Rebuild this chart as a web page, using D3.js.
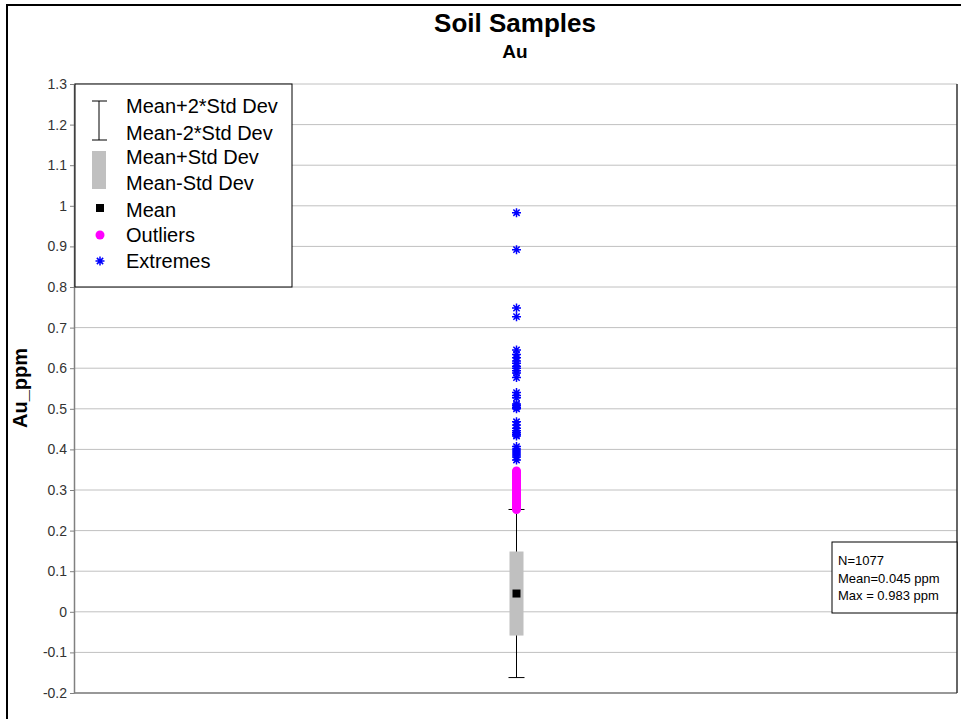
<!DOCTYPE html>
<html><head><meta charset="utf-8">
<script src="https://cdn.jsdelivr.net/npm/d3@7"></script>
<style>body{margin:0;background:#fff}svg{display:block;font-family:Arial,"Liberation Sans",sans-serif}</style>
</head><body><svg id="c" width="961" height="719"></svg>
<script>
const categories = ["Au"];
const tickValues = [1.3,1.2,1.1,1.0,0.9,0.8,0.7,0.6,0.5,0.4,0.3,0.2,0.1,0,-0.1,-0.2];
const tickLabels = ["1.3","1.2","1.1","1","0.9","0.8","0.7","0.6","0.5","0.4","0.3","0.2","0.1","0","-0.1","-0.2"];
const meanVal = 0.045;
const stdDev = 0.1035;
const nSamples = 1077;
const maxVal = 0.983;
const outliers = [0.252,0.255,0.258,0.261,0.264,0.267,0.270,0.273,0.276,0.279,0.282,0.285,0.288,0.291,0.294,0.297,0.300,0.303,0.306,0.309,0.312,0.316,0.320,0.324,0.328,0.332,0.336,0.340,0.344,0.347];
const extremes = [0.983,0.892,0.748,0.727,0.645,0.634,0.626,0.618,0.612,0.605,0.600,0.594,0.588,0.577,0.540,0.533,0.527,0.512,0.508,0.504,0.500,0.468,0.460,0.452,0.446,0.441,0.437,0.433,0.407,0.401,0.396,0.391,0.386,0.381,0.374];
const legendItems = ["Mean+2*Std Dev","Mean-2*Std Dev","Mean+Std Dev","Mean-Std Dev","Mean","Outliers","Extremes"];

const svg = d3.select("#c");
const L = 74, R = 957, T = 84, B = 693;
const y = d3.scaleLinear().domain([-0.2,1.3]).range([B,T]);
const x = d3.scaleBand().domain(categories).range([L,R]);
const cx = x("Au") + x.bandwidth()/2 + 1;

// outer border
svg.append("rect").attr("x",7).attr("y",5).attr("width",970).attr("height",730)
  .attr("fill","none").attr("stroke","#000").attr("stroke-width",2);

// titles
svg.append("text").attr("x",515).attr("y",32).attr("text-anchor","middle")
  .attr("font-weight","bold").attr("font-size",26).text("Soil Samples");
svg.append("text").attr("x",515).attr("y",58).attr("text-anchor","middle")
  .attr("font-weight","bold").attr("font-size",19).text("Au");

// gridlines
svg.append("g").selectAll("line").data(tickValues).join("line")
  .attr("x1",L).attr("x2",R).attr("y1",d=>y(d)).attr("y2",d=>y(d))
  .attr("stroke","#c0c0c0").attr("stroke-width",1);

// axis
const ax = svg.append("g").attr("transform",`translate(${L},0)`)
  .call(d3.axisLeft(y).tickValues(tickValues).tickSize(4).tickSizeOuter(0).tickPadding(3)
    .tickFormat((d,i)=>tickLabels[i]));
ax.selectAll("text").attr("font-size",14).attr("fill","#333").attr("font-family","Arial,'Liberation Sans',sans-serif");
ax.selectAll("line").attr("stroke","#808080");
ax.select(".domain").attr("stroke","#808080").attr("stroke-width",1.5);
// bottom & right border
svg.append("line").attr("x1",L).attr("x2",R).attr("y1",y(-0.2)).attr("y2",y(-0.2)).attr("stroke","#808080").attr("stroke-width",1.5);
svg.append("line").attr("x1",R).attr("x2",R).attr("y1",T).attr("y2",B).attr("stroke","#333").attr("stroke-width",1.5);

// y label
svg.append("text").attr("transform",`translate(27,388) rotate(-90)`).attr("text-anchor","middle")
  .attr("font-weight","bold").attr("font-size",20).text("Au_ppm");

// whisker
const g = svg.append("g");
g.append("line").attr("x1",cx).attr("x2",cx).attr("y1",y(meanVal-2*stdDev)).attr("y2",y(meanVal+2*stdDev)).attr("stroke","#000");
[meanVal-2*stdDev, meanVal+2*stdDev].forEach(v=>{
  g.append("line").attr("x1",cx-8).attr("x2",cx+8).attr("y1",y(v)).attr("y2",y(v)).attr("stroke","#000");
});
g.append("rect").attr("x",cx-7).attr("width",14).attr("y",y(meanVal+stdDev)).attr("height",y(meanVal-stdDev)-y(meanVal+stdDev)).attr("fill","#c0c0c0");
g.append("rect").attr("x",cx-4).attr("y",y(meanVal)-4).attr("width",8).attr("height",8).attr("fill","#000");

// outliers
g.selectAll("circle.o").data(outliers).join("circle").attr("class","o")
  .attr("cx",cx).attr("cy",d=>y(d)).attr("r",4.5).attr("fill","#ff00ff");

// extremes
const star = (px,py,s)=>`M${px-s},${py}L${px+s},${py}M${px},${py-s}L${px},${py+s}M${px-s*0.7},${py-s*0.7}L${px+s*0.7},${py+s*0.7}M${px-s*0.7},${py+s*0.7}L${px+s*0.7},${py-s*0.7}`;
g.selectAll("path.e").data(extremes).join("path").attr("class","e")
  .attr("d",d=>star(cx,y(d),4.5)).attr("stroke","#0000ff").attr("stroke-width",1.5).attr("fill","none");

// legend
const lg = svg.append("g");
lg.append("rect").attr("x",75).attr("y",84).attr("width",217).attr("height",203).attr("fill","#fff").attr("stroke","#000");
const ly = [113,140,164,190,217,242,268];
lg.selectAll("text").data(legendItems).join("text").attr("x",126).attr("y",(d,i)=>ly[i])
  .attr("font-size",20).attr("fill","#000").text(d=>d);
lg.append("line").attr("x1",99).attr("x2",99).attr("y1",101).attr("y2",140).attr("stroke","#000");
lg.append("line").attr("x1",92).attr("x2",107).attr("y1",101).attr("y2",101).attr("stroke","#000");
lg.append("line").attr("x1",92).attr("x2",107).attr("y1",140).attr("y2",140).attr("stroke","#000");
lg.append("rect").attr("x",92).attr("y",151).attr("width",14).attr("height",38).attr("fill","#c0c0c0");
lg.append("rect").attr("x",96).attr("y",204).attr("width",8).attr("height",8).attr("fill","#000");
lg.append("circle").attr("cx",100).attr("cy",235).attr("r",4.5).attr("fill","#ff00ff");
lg.append("path").attr("d",star(100,261,4.5)).attr("stroke","#0000ff").attr("stroke-width",1.5);

// stats box
const sb = svg.append("g");
sb.append("rect").attr("x",832).attr("y",542).attr("width",R-832).attr("height",71).attr("fill","#fff").attr("stroke","#000");
const stats = [`N=${nSamples}`,`Mean=${meanVal.toFixed(3)} ppm`,`Max = ${maxVal.toFixed(3)} ppm`];
sb.selectAll("text").data(stats).join("text").attr("x",838).attr("y",(d,i)=>565+i*17.5)
  .attr("font-size",13).attr("fill","#000").text(d=>d);
</script></body></html>
